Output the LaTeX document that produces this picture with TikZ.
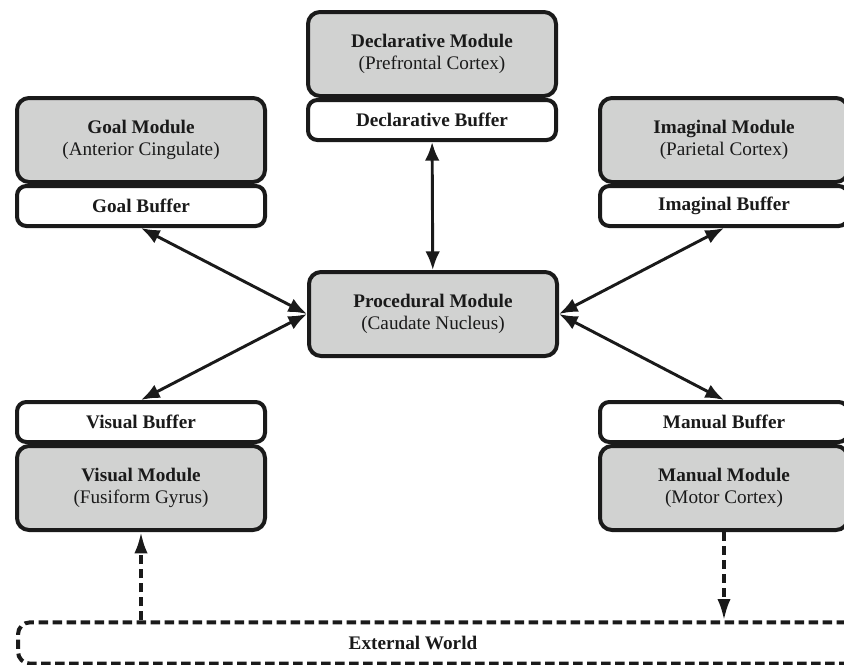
\documentclass[tikz,border=0pt]{standalone}
\usepackage{fontspec}
\setmainfont{Liberation Serif}
\usetikzlibrary{arrows.meta,positioning}
\definecolor{modgray}{HTML}{D1D2D1}
\definecolor{ink}{HTML}{1A1A1A}

\begin{document}
\begin{tikzpicture}[x=0.75pt,y=-0.75pt,
  module/.style={draw=ink,line width=3pt,rounded corners=9pt,fill=modgray,text=ink,minimum width=186pt,minimum height=63pt,align=center,font=\fontsize{14.4}{17}\selectfont},
  buffer/.style={draw=ink,line width=3pt,rounded corners=7pt,fill=white,text=ink,minimum width=186pt,minimum height=30pt,font=\fontsize{14.4}{17}\selectfont\bfseries},
  world/.style={draw=ink,line width=3pt,rounded corners=9pt,dash pattern=on 7pt off 3.5pt,text=ink,minimum width=630pt,minimum height=31pt,font=\fontsize{14.4}{17}\selectfont\bfseries},
  link/.style={{Latex[length=14pt,width=11pt]}-{Latex[length=14pt,width=11pt]},line width=2.2pt,draw=ink},
  flow/.style={-{Latex[length=16pt,width=10pt]},line width=2.6pt,draw=ink,dash pattern=on 7pt off 3.5pt}]
\useasboundingbox (0,0) rectangle (844,665);
% modules on top, buffers under them
\node[module] (decl) at (432,54){\textbf{Declarative Module}\\(Prefrontal Cortex)};
\node[buffer,below=0pt of decl] (declbuf){Declarative Buffer};
\node[module] (goal) at (141,140){\textbf{Goal Module}\\(Anterior Cingulate)};
\node[buffer,below=0pt of goal] (goalbuf){Goal Buffer};
\node[module] (imag) at (724,140){\textbf{Imaginal Module}\\(Parietal Cortex)};
\node[buffer,below=0pt of imag] (imagbuf){Imaginal Buffer};
\node[module] (proc) at (433,314){\textbf{Procedural Module}\\(Caudate Nucleus)};
% modules at the bottom, buffers above them
\node[module] (vis) at (141,488){\textbf{Visual Module}\\(Fusiform Gyrus)};
\node[buffer,above=0pt of vis] (visbuf){Visual Buffer};
\node[module] (man) at (724,488){\textbf{Manual Module}\\(Motor Cortex)};
\node[buffer,above=0pt of man] (manbuf){Manual Buffer};
\node[world] (ext) at (438,643){\hspace*{-37.5pt}External World};
% buffers <-> procedural
\draw[link] (declbuf)--(proc);
\draw[link] (goalbuf.south)--(proc.west);
\draw[link] (imagbuf.south)--(proc.east);
\draw[link] (proc.west)--(visbuf.north);
\draw[link] (proc.east)--(manbuf.north);
% perception and action
\draw[flow] (ext.north -| vis.south)--(vis.south);
\draw[flow] (man.south)--(ext.north -| man.south);
\end{tikzpicture}
\end{document}
